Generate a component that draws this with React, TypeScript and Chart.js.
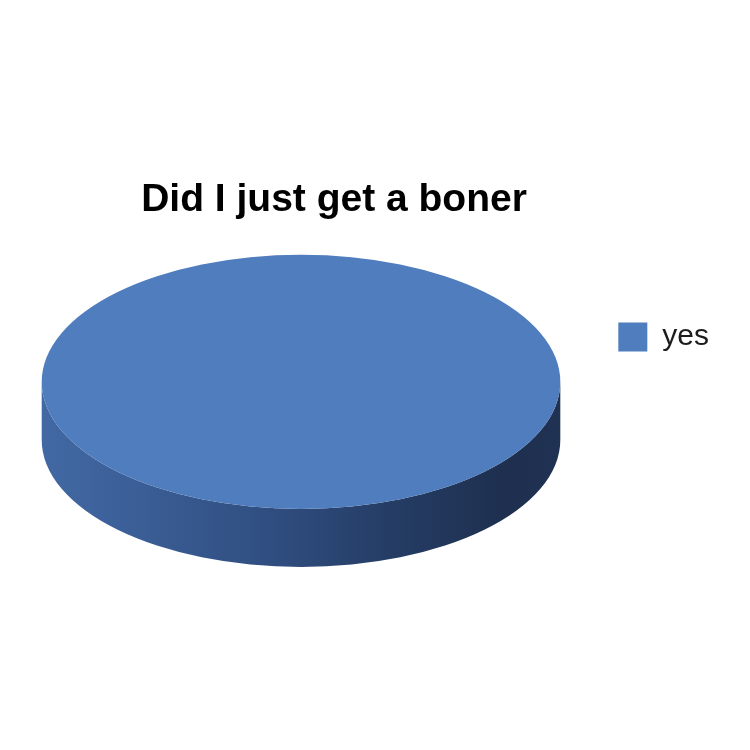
import { useEffect, useRef } from "react";
import { Chart, registerables } from "chart.js";

Chart.register(...registerables);

const labels = ["yes"];
const values = [100];
const sliceColors = ["#4f7dbd"];
const title = "Did I just get a boner";

// 3D look: top face height / width, wall depth / width, wall shading left -> right
const tilt = 0.49;
const depthRatio = 0.224;
const wallStops: [number, string][] = [
  [0, "#4269a4"],
  [0.2, "#3a5d95"],
  [0.45, "#2f4d7f"],
  [0.7, "#243b62"],
  [0.9, "#1e2f4f"],
  [1, "#203253"],
];

// the disc fills the plot height and sits against the legend
const geometry = (chart: Chart) => {
  const { chartArea } = chart;
  const rx = chartArea.height / (2 * tilt + depthRatio);
  const ry = rx * tilt;
  return {
    cx: chartArea.right - rx,
    cy: chartArea.top + ry,
    rx,
    ry,
    depth: rx * depthRatio,
  };
};

const pie3d = {
  id: "pie3d",
  beforeDatasetsDraw(chart: Chart) {
    const { ctx } = chart;
    const { cx, cy, rx, ry, depth } = geometry(chart);
    const grad = ctx.createLinearGradient(cx - rx, 0, cx + rx, 0);
    wallStops.forEach(([at, c]) => grad.addColorStop(at, c));
    ctx.save();
    ctx.beginPath();
    ctx.ellipse(cx, cy + depth, rx, ry, 0, 0, Math.PI);
    ctx.lineTo(cx - rx, cy);
    ctx.ellipse(cx, cy, rx, ry, 0, Math.PI, 0, true);
    ctx.closePath();
    ctx.fillStyle = grad;
    ctx.fill();
    ctx.restore();
  },
  beforeDatasetDraw(chart: Chart, args: any) {
    const arc: any = chart.getDatasetMeta(args.index).data[0];
    const { ctx } = chart;
    const { cx, cy, rx, ry } = geometry(chart);
    const r = (arc && arc.outerRadius) || 1;
    ctx.save();
    ctx.translate(cx, cy);
    ctx.scale(rx / r, ry / r);
    if (arc) ctx.translate(-arc.x, -arc.y);
  },
  afterDatasetDraw(chart: Chart) {
    chart.ctx.restore();
  },
};

export default function App() {
  const canvasRef = useRef<HTMLCanvasElement>(null);

  useEffect(() => {
    if (!canvasRef.current) return;
    Chart.defaults.font.family = "'Liberation Sans', Arial, Helvetica, sans-serif";

    const chart = new Chart(canvasRef.current, {
      type: "pie",
      data: {
        labels,
        datasets: [
          {
            data: values,
            backgroundColor: sliceColors,
            borderWidth: 0,
            clip: false,
          } as any,
        ],
      },
      options: {
        animation: false,
        responsive: true,
        maintainAspectRatio: false,
        events: [],
        layout: {
          padding: { top: 107, bottom: 183, left: -51, right: 31 },
        },
        plugins: {
          tooltip: { enabled: false },
          title: {
            display: true,
            text: title,
            color: "#000",
            font: { size: 39, weight: "bold" },
            padding: { top: 70, bottom: 31 },
          },
          legend: {
            position: "right",
            labels: {
              boxWidth: 29,
              boxHeight: 29,
              padding: 58,
              color: "#1c1c1c",
              font: { size: 30 },
            },
          },
        },
      },
      plugins: [pie3d],
    });

    return () => chart.destroy();
  }, []);

  return (
    <div
      style={{
        position: "fixed",
        left: 0,
        top: 0,
        width: 750,
        height: 750,
        background: "#fff",
      }}
    >
      <canvas ref={canvasRef} />
    </div>
  );
}
